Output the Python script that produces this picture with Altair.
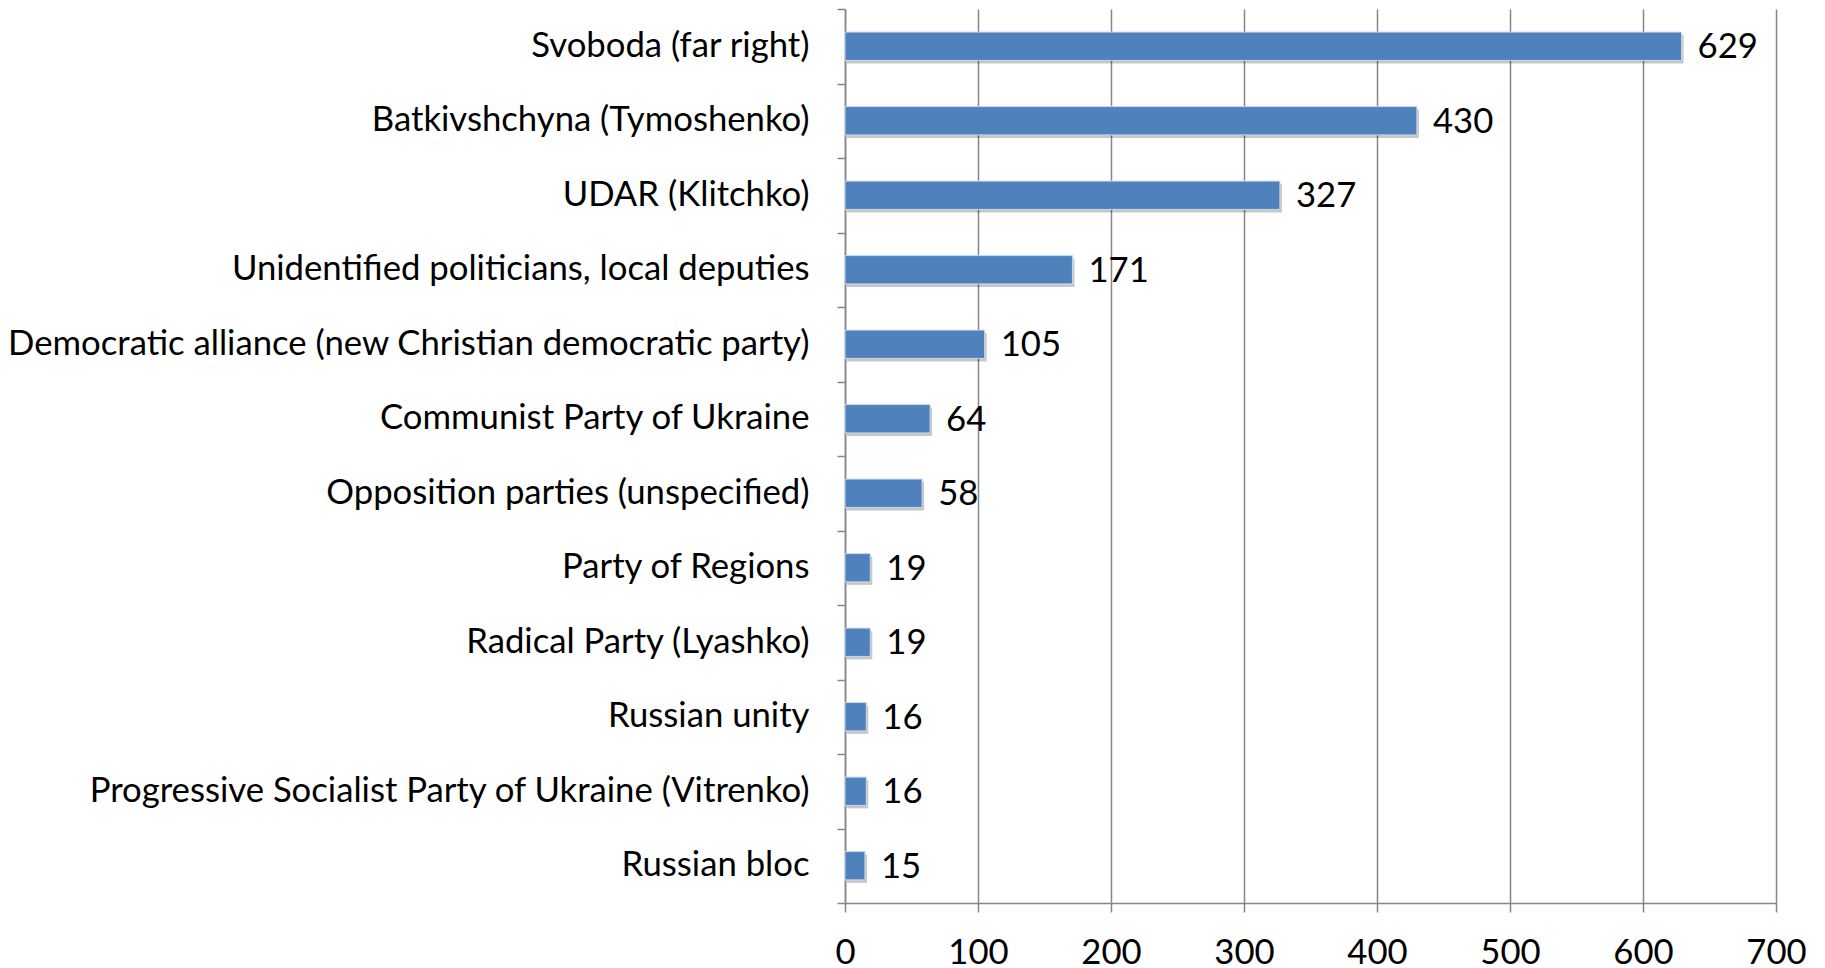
import altair as alt
import pandas as pd

categories = [
    "Svoboda (far right)",
    "Batkivshchyna (Tymoshenko)",
    "UDAR (Klitchko)",
    "Unidentified politicians, local deputies",
    "Democratic alliance (new Christian democratic party)",
    "Communist Party of Ukraine",
    "Opposition parties (unspecified)",
    "Party of Regions",
    "Radical Party (Lyashko)",
    "Russian unity",
    "Progressive Socialist Party of Ukraine (Vitrenko)",
    "Russian bloc",
]
values = [629, 430, 327, 171, 105, 64, 58, 19, 19, 16, 16, 15]
x_ticks = [0, 100, 200, 300, 400, 500, 600, 700]

df = pd.DataFrame({"cat": categories, "val": values})

FONT = "Lato"
FS = 34.7
GRAY = "#868686"

y_enc = alt.Y(
    "cat:N",
    sort=categories,
    title=None,
    scale=alt.Scale(paddingInner=0, paddingOuter=0),
    axis=alt.Axis(
        tickBand="extent",
        tickSize=8,
        tickColor=GRAY,
        tickWidth=1.5,
        domainColor=GRAY,
        domainWidth=1.5,
        labelPadding=28,
        labelFont=FONT,
        labelFontSize=FS,
        labelColor="#000000",
        labelLimit=1000,
        grid=False,
    ),
)
x_enc = alt.X(
    "val:Q",
    title=None,
    scale=alt.Scale(domain=[0, 700], nice=False),
    axis=alt.Axis(
        values=x_ticks,
        tickSize=9,
        tickColor=GRAY,
        tickWidth=1.5,
        domainColor=GRAY,
        domainWidth=1.5,
        grid=True,
        gridColor=GRAY,
        gridWidth=1.5,
        labelPadding=24,
        labelFont=FONT,
        labelFontSize=FS,
        labelColor="#000000",
        labelFlush=False,
    ),
)

base = alt.Chart(df)

shadow = base.mark_bar(
    color="#000000", opacity=0.22, xOffset=2, yOffset=3,
    height=alt.RelativeBandSize(band=0.38),
).encode(x=x_enc, y=y_enc)

bars = base.mark_bar(
    color="#4F81BD", stroke="#C9D8EB", strokeWidth=1,
    height=alt.RelativeBandSize(band=0.38),
).encode(x="val:Q", y=alt.Y("cat:N", sort=categories))

labels = base.mark_text(
    align="left", baseline="middle", dx=16, dy=2, font=FONT, fontSize=FS, color="#000000"
).encode(x="val:Q", y=alt.Y("cat:N", sort=categories), text="val:Q")

chart = (
    alt.layer(shadow, bars, labels)
    .properties(
        width=931,
        height=894,
        autosize=alt.AutoSizeParams(type="none"),
        padding={"left": 837, "top": 1, "right": 30, "bottom": 70},
    )
    .configure_view(stroke=None)
)

chart.save("out.html", embed_options={"renderer": "svg", "actions": False})
